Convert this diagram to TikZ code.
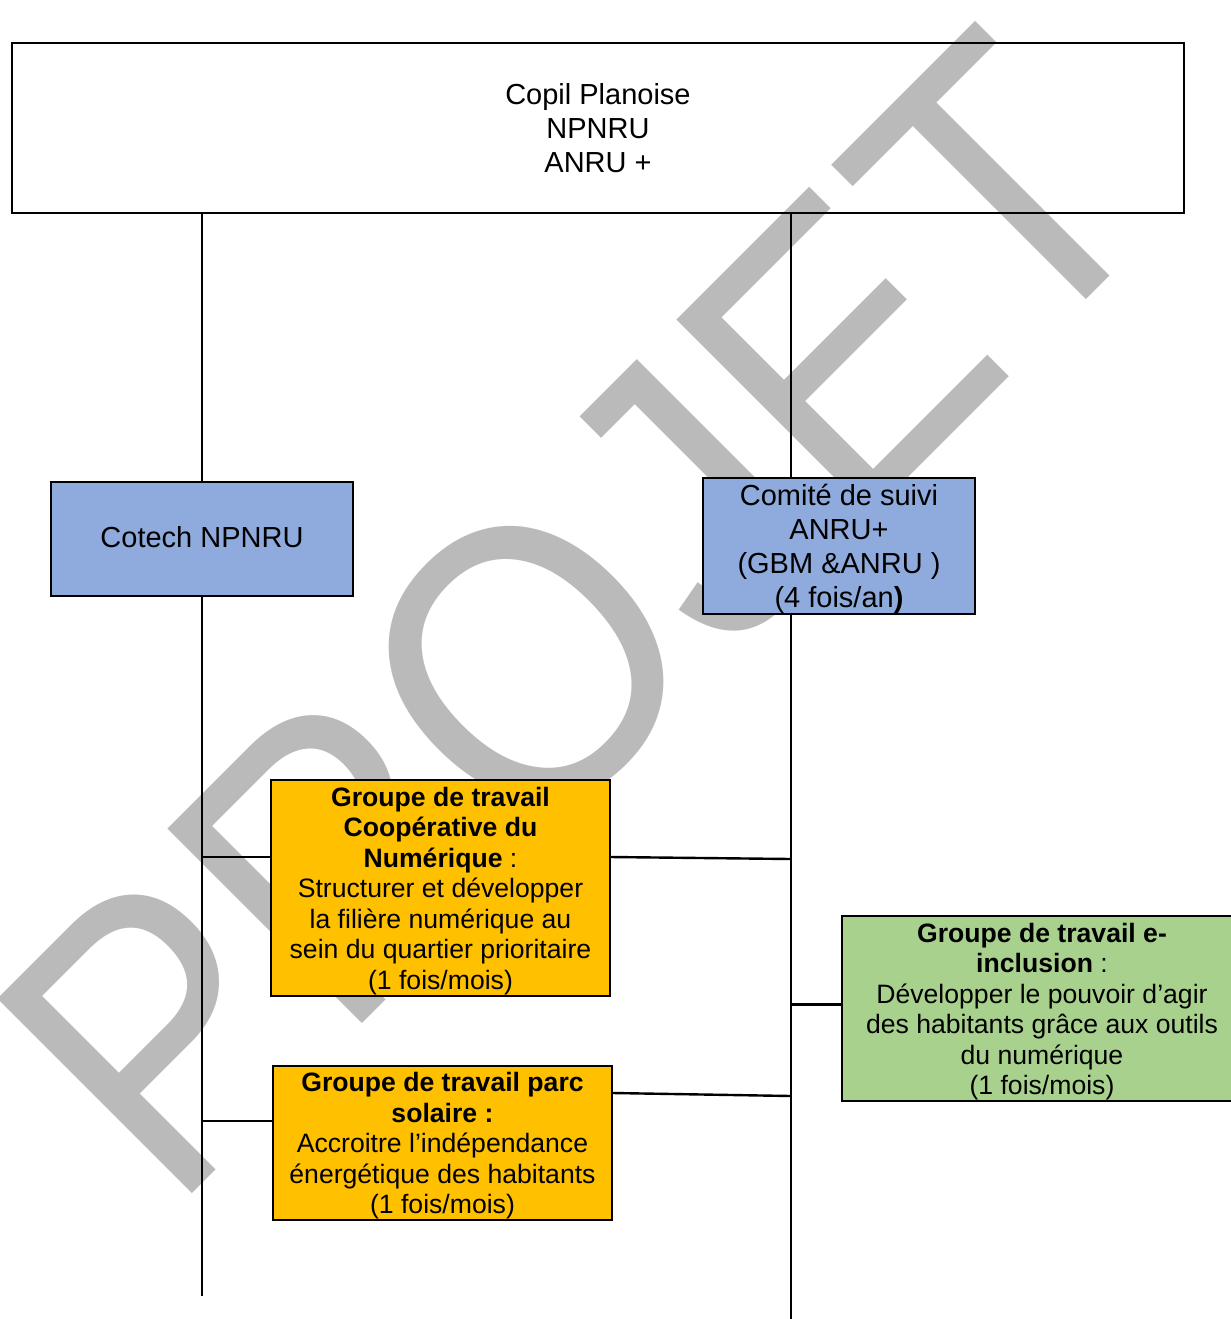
\documentclass[tikz,border=0pt]{standalone}
\usepackage{fontspec}
\setmainfont{Liberation Sans}
\usetikzlibrary{positioning,calc}
\definecolor{wmgray}{RGB}{186,186,186}
\definecolor{cblue}{RGB}{143,170,220}
\definecolor{corange}{RGB}{255,192,0}
\definecolor{cgreen}{RGB}{169,209,142}
\tikzstyle{topbox} = [draw, rectangle, line width=1pt, inner sep=0pt, align=center, font=\fontsize{14.5}{17}\selectfont]
\tikzstyle{comite} = [topbox, fill=cblue]
\tikzstyle{groupe} = [draw, rectangle, line width=1pt, inner sep=0pt, align=center, font=\fontsize{13.3}{15.25}\selectfont]
\tikzstyle{link} = [line width=1.2pt]

\begin{document}
\begin{tikzpicture}[x=0.5pt, y=-0.5pt]
	\useasboundingbox (0,0) rectangle (1231,1319);
	\clip (0,0) rectangle (1231,1319);
	% filigrane
	\node (wm) [anchor=base, rotate=45, xscale=0.9, text=wmgray, inner sep=0pt, font=\fontsize{200}{200}\selectfont] at (674,712) {PROJET};
	% instances
	\node (copil) [topbox, minimum width=586pt, minimum height=85pt] at (598,128) {Copil Planoise\\NPNRU\\ANRU +};
	\node (cotech) [comite, minimum width=151pt, minimum height=57pt] at (202,539) {\raisebox{2.5pt}{Cotech NPNRU}};
	\node (suivi) [comite, minimum width=136pt, minimum height=68pt] at (839,546) {\rule{0pt}{13.6pt}Comité de suivi\\ANRU+\\(GBM \&ANRU )\\(4 fois/an\textbf{)}};
	% groupes de travail
	\node (numerique) [groupe, fill=corange, minimum width=169.5pt, minimum height=108pt] at (440.5,888) {\rule{0pt}{12.7pt}\textbf{Groupe de travail}\\\textbf{Coopérative du}\\\textbf{Numérique} :\\Structurer et développer\\la filière numérique au\\sein du quartier prioritaire\\(1 fois/mois)};
	\node (solaire) [groupe, fill=corange, minimum width=169.5pt, minimum height=77pt] at (442.5,1143) {\rule{0pt}{12.7pt}\textbf{Groupe de travail parc}\\\textbf{solaire :}\\Accroitre l’indépendance\\énergétique des habitants\\(1 fois/mois)};
	\node (einclusion) [groupe, fill=cgreen, minimum width=200pt, minimum height=92.5pt] at (1042,1008.5) {\rule{0pt}{12.7pt}\textbf{Groupe de travail e-}\\\textbf{inclusion} :\\Développer le pouvoir d’agir\\des habitants grâce aux outils\\du numérique\\(1 fois/mois)};
	% axes verticaux
	\coordinate (lbas) at (202,1296);
	\coordinate (rbas) at (791,1319);
	\draw [link] (copil.south -| cotech) -- (cotech.north);
	\draw [link] (copil.south -| rbas) -- (rbas |- suivi.north);
	\draw [link] (cotech.south) -- (lbas);
	\draw [link] (suivi.south -| rbas) -- (rbas);
	% branches
	\draw [link] ($(numerique.west)+(0,-31)$) -- ($(numerique.west -| lbas)+(0,-31)$);
	\draw [link] ($(numerique.east)+(0,-31)$) -- ($(numerique.east -| rbas)+(0,-29)$);
	\draw [link] ($(solaire.west)+(0,-22)$) -- ($(solaire.west -| lbas)+(0,-22)$);
	\draw [link] ($(solaire.east)+(0,-50)$) -- ($(solaire.east -| rbas)+(0,-47)$);
	\draw [link] ($(einclusion.west)+(0,-4)$) -- ($(einclusion.west -| rbas)+(0,-4)$);
\end{tikzpicture}
\end{document}
